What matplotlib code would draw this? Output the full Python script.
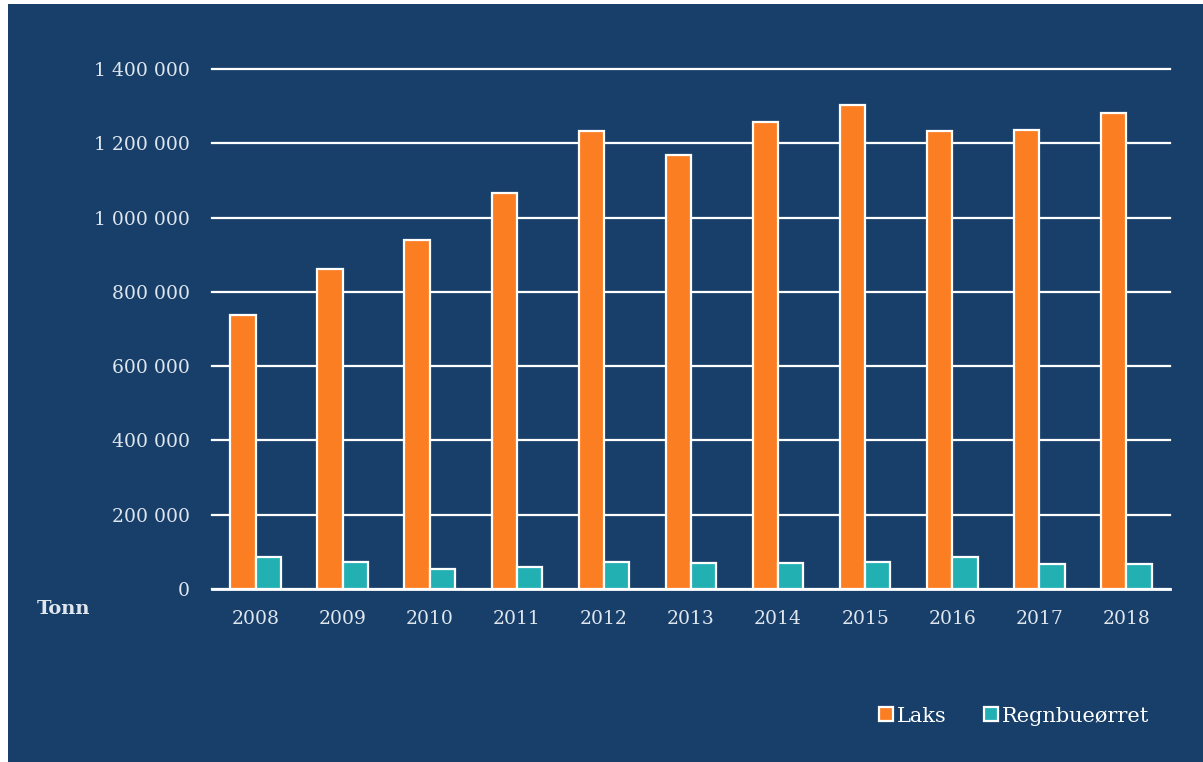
import numpy as np
import matplotlib.pyplot as plt
from matplotlib.patches import Rectangle

years = ["2008", "2009", "2010", "2011", "2012", "2013", "2014", "2015", "2016", "2017", "2018"]
laks = [737000, 862000, 939000, 1065000, 1232000, 1168000, 1258000, 1303000, 1234000, 1236000, 1282000]
regnbue = [85000, 74000, 55000, 58000, 74000, 71000, 69000, 73000, 87000, 67000, 68000]
yticks = [0, 200000, 400000, 600000, 800000, 1000000, 1200000, 1400000]

bg = "#173f6a"
orange = "#fc7e23"
teal = "#23b0b3"
txt = "#dfe6ee"

plt.rcParams['font.family'] = ['DejaVu Serif']

fig = plt.figure(figsize=(12.03, 7.62), dpi=100, facecolor="white")
fig.patches.append(Rectangle((8/1203, 0), 1 - 8/1203, 1 - 4/762, transform=fig.transFigure,
                             facecolor=bg, edgecolor="none", zorder=-10))

ax = fig.add_axes([212/1203, 1 - 589/762, (1170 - 212)/1203, (589 - 69)/762])
ax.set_facecolor("none")

x = np.arange(len(years))
w = 0.29
ax.bar(x - w/2, laks, w, color=orange, edgecolor="white", linewidth=1.6, label="Laks", zorder=3)
ax.bar(x + w/2, regnbue, w, color=teal, edgecolor="white", linewidth=1.6, label="Regnbueørret", zorder=3)

ax.set_xlim(-0.5, len(years) - 0.5)
ax.set_ylim(0, 1400000)
ax.set_yticks(yticks)
ax.set_yticklabels([f"{v:,}".replace(",", " ") for v in yticks])
ax.set_xticks(x)
ax.set_xticklabels(years)
ax.yaxis.grid(True, color="white", linewidth=1.6, zorder=1)
for gl in ax.get_ygridlines():
    gl.set_clip_on(False)
ax.set_axisbelow(True)
for s in ["top", "right", "left"]:
    ax.spines[s].set_visible(False)
ax.spines["bottom"].set_color("white")
ax.spines["bottom"].set_linewidth(2)
ax.spines["bottom"].set_zorder(4)
ax.tick_params(axis="both", length=0, colors=txt, labelsize=13.5)
ax.tick_params(axis="y", pad=16)
ax.tick_params(axis="x", pad=15)

fig.text(37/1203, 1 - 609/762, "Tonn", color=txt, fontsize=14, fontweight="bold", va="center", ha="left")

leg = ax.legend(loc="center right", bbox_to_anchor=(1168/1203, 1 - 716/762), bbox_transform=fig.transFigure,
                ncol=2, frameon=False, fontsize=15, handlelength=0.65, handleheight=0.65,
                handletextpad=0.2, columnspacing=1.8, labelcolor="white")

fig.savefig("out.png", dpi=100, facecolor="white")
